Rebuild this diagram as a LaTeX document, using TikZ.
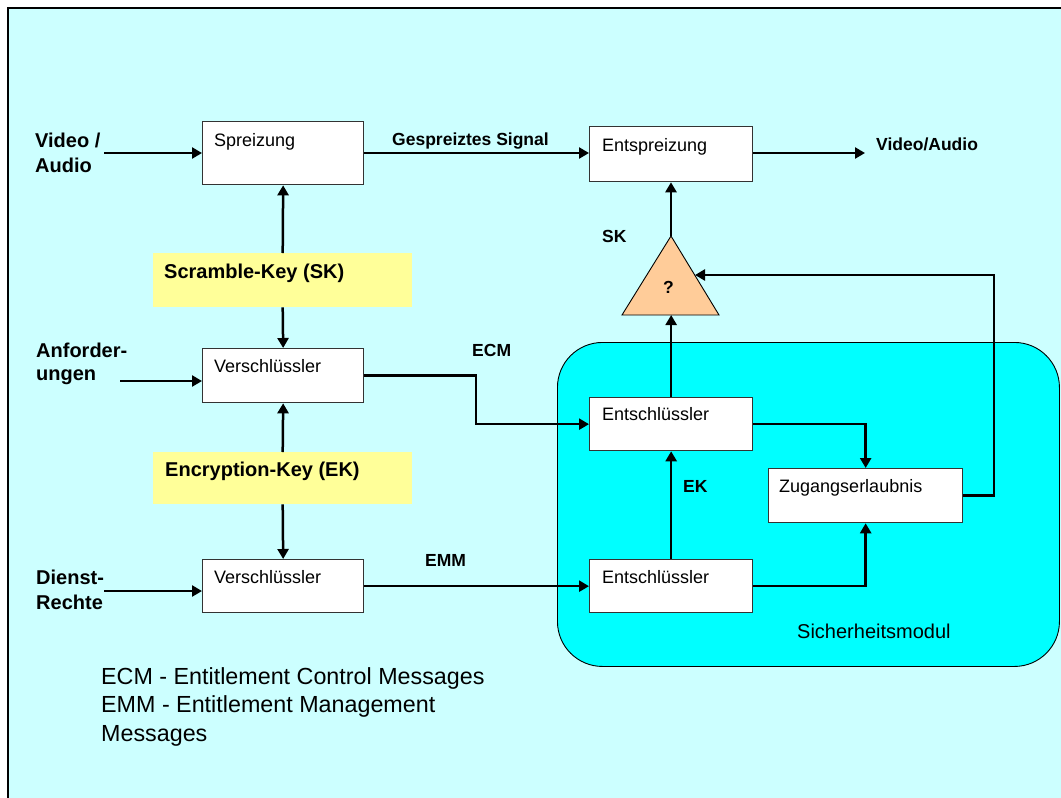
\documentclass[tikz,border=0pt]{standalone}
\usepackage{fontspec}
\setmainfont{Liberation Sans}
\usetikzlibrary{arrows.meta}

\definecolor{bgcyan}{RGB}{204,255,255}
\definecolor{modcyan}{RGB}{0,255,255}
\definecolor{keyyellow}{RGB}{255,255,153}
\definecolor{triorange}{RGB}{255,204,153}

\begin{document}
\begin{tikzpicture}[x=1pt,y=-1pt,
  blk/.style={draw=black!80, line width=1.3pt, fill=white, inner sep=0pt, anchor=north west},
  keybox/.style={fill=keyyellow, inner sep=0pt, anchor=north west},
  boxtxt/.style={anchor=base west, inner sep=0pt, font=\fontsize{18}{21}\selectfont},
  biglbl/.style={anchor=base west, inner sep=0pt, font=\bfseries\fontsize{20}{24}\selectfont},
  smlbl/.style={anchor=base west, inner sep=0pt, font=\bfseries\fontsize{17.5}{21}\selectfont},
  legend/.style={anchor=base west, inner sep=0pt, font=\fontsize{23.3}{28}\selectfont},
  conn/.style={line width=2.5pt, -{Triangle[length=10pt,width=11pt]}}
]
\useasboundingbox (0,0) rectangle (1061,798);

% page background and frame
\fill[white] (0,0) rectangle (1061,798);
\fill[bgcyan] (8,8) rectangle (1061,798);
\draw[line width=2.6pt] (1061,8) -- (8,8) -- (8,798);

% security module
\node[draw=black, line width=0.9pt, fill=modcyan, rounded corners=45pt, inner sep=0pt,
      minimum width=502pt, minimum height=324pt, anchor=north west] (mod) at (557,342) {};
\node[anchor=base west, inner sep=0pt, font=\fontsize{20}{24}\selectfont] (modt) at (797,638) {Sicherheitsmodul};

% blocks
\node[blk, minimum width=161pt, minimum height=63pt] (spr) at (202,121) {};
\node[blk, minimum width=163pt, minimum height=55pt] (ent) at (589,126) {};
\node[blk, minimum width=161pt, minimum height=54pt] (vs1) at (202,348) {};
\node[blk, minimum width=161pt, minimum height=53pt] (vs2) at (202,559) {};
\node[blk, minimum width=163pt, minimum height=53pt] (es1) at (589,397) {};
\node[blk, minimum width=163pt, minimum height=53pt] (es2) at (589,559) {};
\node[blk, minimum width=194pt, minimum height=54pt] (zug) at (768,468) {};

\node[boxtxt] (sprt) at ([xshift=12pt,yshift=-25pt]spr.north west) {Spreizung};
\node[boxtxt] (entt) at ([xshift=13pt,yshift=-25pt]ent.north west) {Entspreizung};
\node[boxtxt] (vs1t) at ([xshift=12pt,yshift=-24.5pt]vs1.north west) {Verschlüssler};
\node[boxtxt] (vs2t) at ([xshift=12pt,yshift=-24.5pt]vs2.north west) {Verschlüssler};
\node[boxtxt] (es1t) at ([xshift=13pt,yshift=-23.5pt]es1.north west) {Entschlüssler};
\node[boxtxt] (es2t) at ([xshift=13pt,yshift=-24pt]es2.north west) {Entschlüssler};
\node[boxtxt] (zugt) at ([xshift=11pt,yshift=-24.5pt]zug.north west) {Zugangserlaubnis};

% key boxes
\node[keybox, minimum width=259pt, minimum height=54pt] (skb) at (153,253) {};
\node[keybox, minimum width=259pt, minimum height=52pt] (ekb) at (153,452) {};
\node[biglbl] (skbt) at ([xshift=11pt,yshift=-25pt]skb.north west) {Scramble-Key (SK)};
\node[biglbl] (ekbt) at ([xshift=12pt,yshift=-24pt]ekb.north west) {Encryption-Key (EK)};

% key selector
\coordinate (tA) at (671,236);
\coordinate (tL) at (622,315);
\coordinate (tR) at (719,315);
\coordinate (tB) at (671,315);
\coordinate (tE) at (695,275);
\draw[fill=triorange, line width=0.9pt] (tA) -- (tL) -- (tR) -- cycle;
\node[smlbl] (q) at (663,293) {?};

% input / output labels
\node[biglbl] (vid1) at (35,147) {Video /};
\node[biglbl] (vid2) at (35,172) {Audio};
\node[biglbl] (anf1) at (36,357) {Anforder-};
\node[biglbl] (anf2) at (36,380) {ungen};
\node[biglbl] (die1) at (36,584) {Dienst-};
\node[biglbl] (die2) at (36,609) {Rechte};
\node[smlbl] (gsig) at (392,145) {Gespreiztes Signal};
\node[smlbl] (vout) at (876,150) {Video/Audio};
\node[smlbl] (skl) at (602,242) {SK};
\node[smlbl] (ecml) at (472,356) {ECM};
\node[smlbl] (emml) at (425,566) {EMM};
\node[smlbl] (ekl) at (683,492) {EK};

% legend
\node[legend] (lg1) at (101,684) {ECM - Entitlement Control Messages};
\node[legend] (lg2) at (101,712.5) {EMM - Entitlement Management};
\node[legend] (lg3) at (101,741) {Messages};

% free ends of connectors
\coordinate (vin) at (104,153);
\coordinate (ain) at (120,381);
\coordinate (din) at (104,591);
\coordinate (vo) at (865,153);
\coordinate (ecmx) at (476,0);
\coordinate (fbx) at (994,275);

% connectors
\draw[conn] (vin) -- (vin -| spr.west);
\draw[conn] (ain) -- (ain -| vs1.west);
\draw[conn] (din) -- (din -| vs2.west);
\draw[conn] (spr.east |- vin) -- (vin -| ent.west);
\draw[conn] (ent.east |- vo) -- (vo);
\draw[conn] (skb.north) -- (spr.south);
\draw[conn] (skb.south) -- (vs1.north);
\draw[conn] (ekb.north) -- (vs1.south);
\draw[conn] (ekb.south) -- (vs2.north);
\draw[conn] (vs1.east) -- (vs1.east -| ecmx) |- (es1.west);
\draw[conn] (vs2.east) -- (vs2.east -| es2.west);
\draw[conn] (es2.north) -- (es1.south);
\draw[conn] (es1.north) -- (es1.north |- tB);
\draw[conn] (tA) -- (tA |- ent.south);
\draw[conn] (es1.east) -| (zug.north);
\draw[conn] (es2.east) -| (zug.south);
\draw[conn] (zug.east) -| (fbx) -- (tE);
\end{tikzpicture}
\end{document}
